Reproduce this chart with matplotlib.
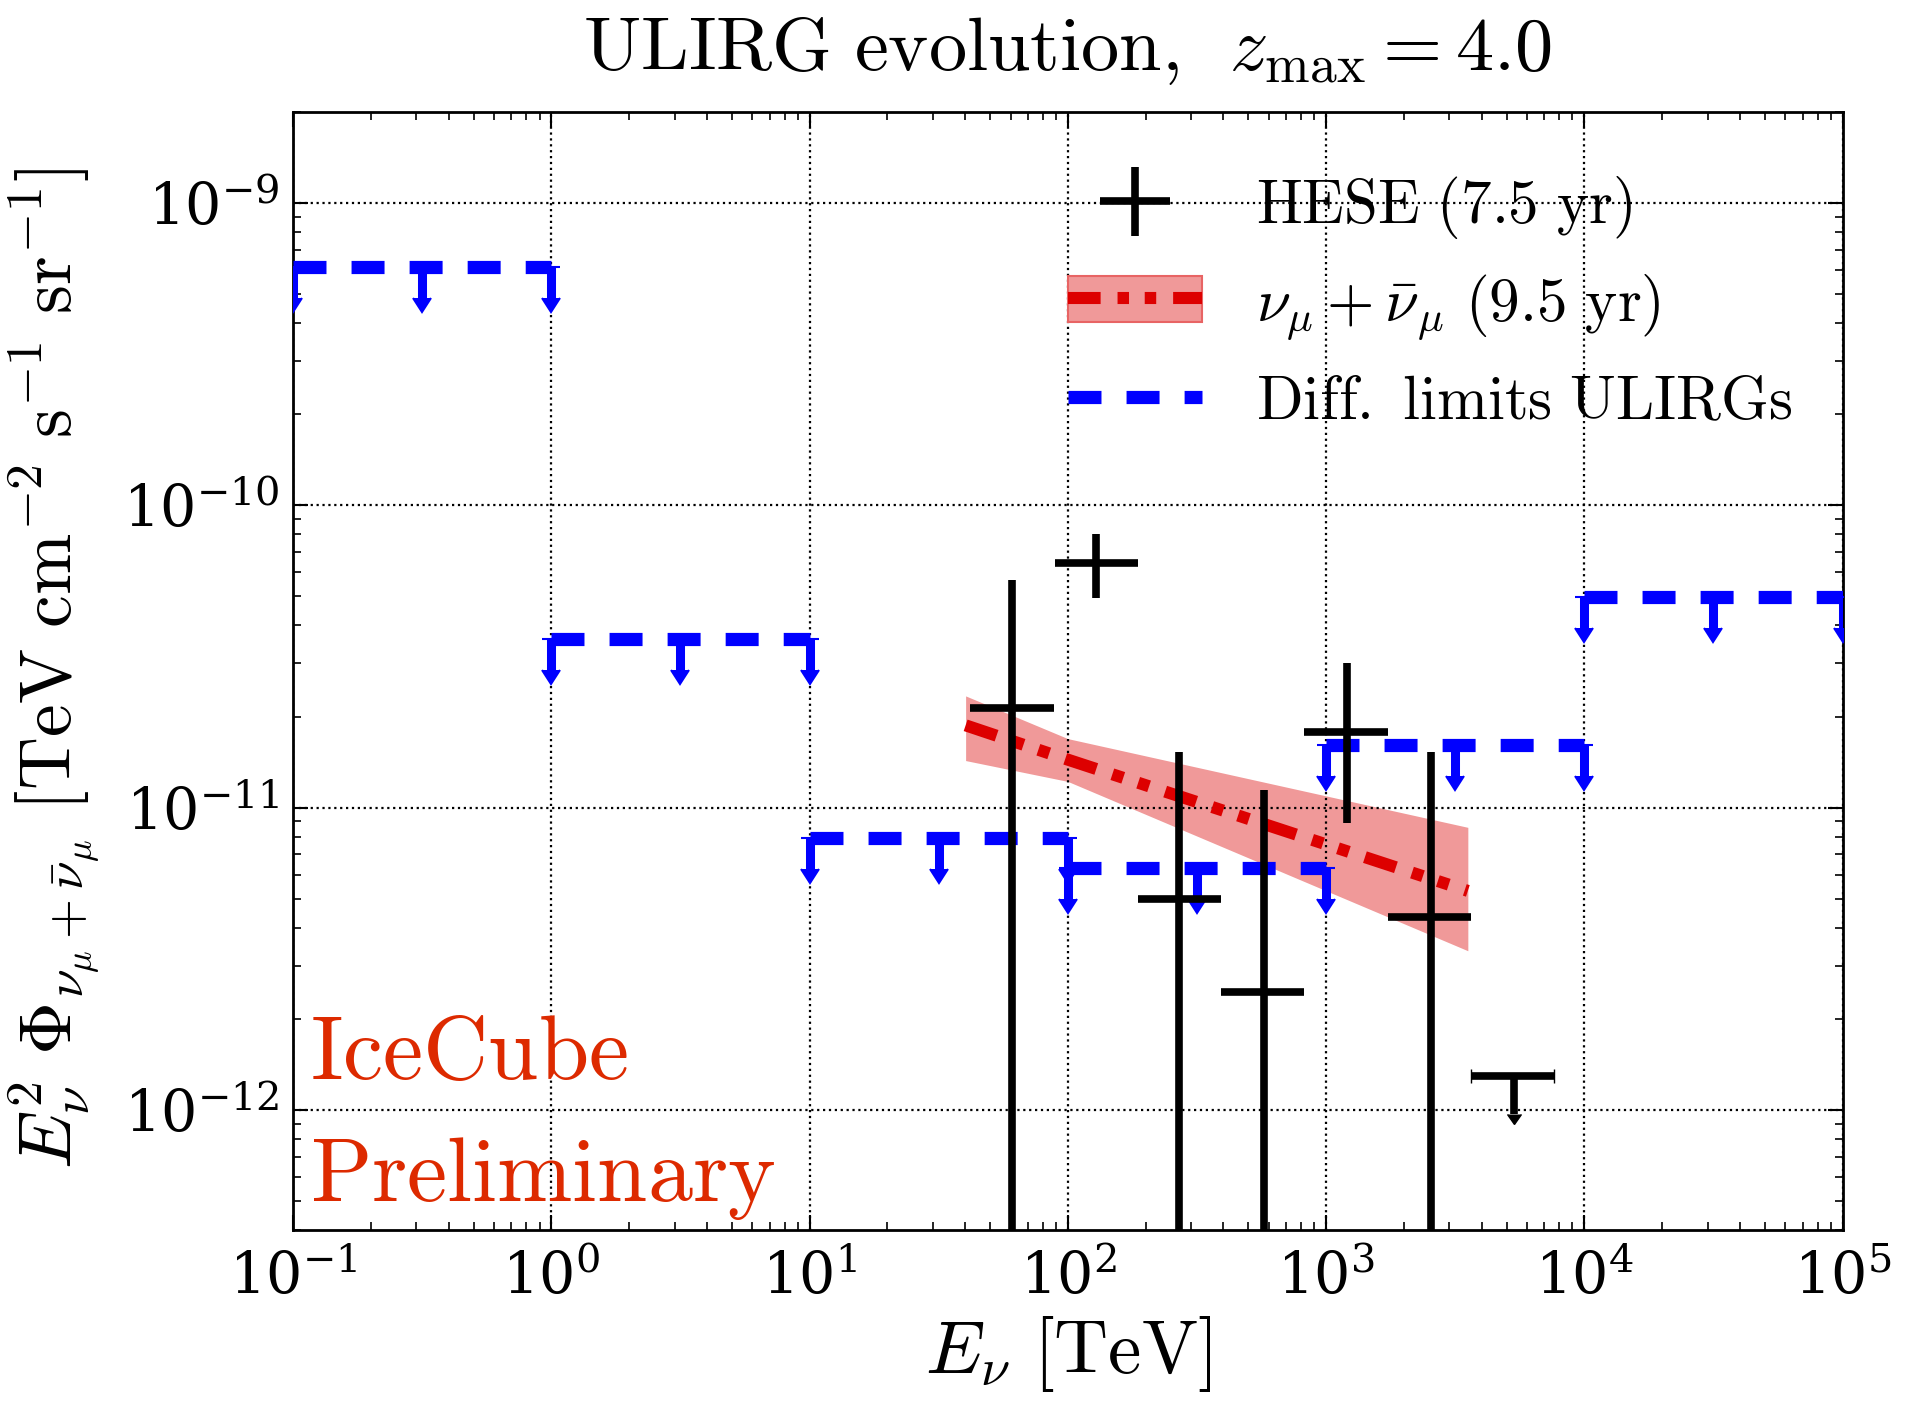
import numpy as np
import matplotlib
matplotlib.use("Agg")
import matplotlib.pyplot as plt
from matplotlib.patches import Patch
from matplotlib.lines import Line2D
from matplotlib.legend_handler import HandlerErrorbar, HandlerTuple

plt.rcParams['mathtext.fontset'] = 'cm'
plt.rcParams['font.family'] = ['DejaVu Serif']

# ---------------- data ----------------
# HESE (7.5 yr) segmented flux
hese_E = [61, 129, 270, 573, 1208, 2540]
hese_E_lo = [41.8, 89, 187, 392, 824, 1733]
hese_E_hi = [88.3, 187, 392, 824, 1733, 3640]
hese_flux = [2.14e-11, 6.43e-11, 4.99e-12, 2.45e-12, 1.78e-11, 4.34e-12]
hese_flux_up = [5.65e-11, 8.0e-11, 1.53e-11, 1.14e-11, 3.0e-11, 1.53e-11]
hese_flux_down = [0.0, 4.94e-11, 0.0, 0.0, 8.9e-12, 0.0]
# HESE upper limit bin
hese_ul_E = [5320]
hese_ul_E_lo = [3640]
hese_ul_E_hi = [7650]
hese_ul_flux = [1.29e-12]

# nu_mu + nubar_mu (9.5 yr) fit and band
band_E = [40.2, 100, 3540]
band_upper = [2.34e-11, 1.69e-11, 8.6e-12]
band_lower = [1.43e-11, 1.22e-11, 3.36e-12]
fit_E = [40.2, 100, 3540]
fit_flux = [1.87e-11, 1.44e-11, 5.3e-12]

# Differential limits ULIRGs (per decade)
lim_E_lo = [0.1, 1, 10, 100, 1000, 10000]
lim_E_hi = [1, 10, 100, 1000, 10000, 100000]
lim_flux = [6.13e-10, 3.6e-11, 7.9e-12, 6.3e-12, 1.61e-11, 4.98e-11]

# ---------------- plot ----------------
fig = plt.figure(figsize=(19.07, 14.26), dpi=100)
ax = fig.add_axes([0.1537, 0.1373, 0.8125, 0.7843])
ax.set_xscale('log')
ax.set_yscale('log')

blue = '#0000ff'
lim_ls = (0, (2.5, 1.9))
for lo, hi, f in zip(lim_E_lo, lim_E_hi, lim_flux):
    xs = [lo, np.sqrt(lo * hi), hi]
    ys = [f, f, f]
    ax.errorbar(xs, ys, yerr=[0.21 * f] * 3, uplims=True, color=blue, ecolor=blue,
                linestyle=lim_ls, lw=9.5, elinewidth=6.5, capsize=6.5,
                capthick=1.5, zorder=3)

# band + fit
ax.fill_between(band_E, band_lower, band_upper, color='#f09999', lw=0, zorder=1)
fit_ls = (0, (2.7, 1.4, 0.95, 1.3, 0.95, 1.4))
fit_line, = ax.plot(fit_E, fit_flux, color='#dd0000', lw=8.7, linestyle=fit_ls, zorder=4)

# HESE points
hf = np.array(hese_flux)
hup = np.array(hese_flux_up)
hdn = np.maximum(np.array(hese_flux_down), 1e-16)
hE = np.array(hese_E)
xerr = [hE - np.array(hese_E_lo), np.array(hese_E_hi) - hE]
yerr = [hf - hdn, hup - hf]
hese = ax.errorbar(hE, hf, xerr=xerr, yerr=yerr, fmt='none', ecolor='k', color='k',
                   elinewidth=5.5, capsize=0, zorder=5)
uE = np.array(hese_ul_E)
uf = np.array(hese_ul_flux)
ax.errorbar(uE, uf, xerr=[uE - np.array(hese_ul_E_lo), np.array(hese_ul_E_hi) - uE],
            yerr=0.25 * uf, uplims=True, fmt='none', ecolor='k', color='k',
            elinewidth=5.5, capsize=5, capthick=1, zorder=5)

ax.set_xlim(1e-1, 1e5)
ax.set_ylim(4e-13, 2e-9)

ax.grid(True, which='major', linestyle=':', color='k', linewidth=1.6)
ax.set_axisbelow(False)
for s in ax.spines.values():
    s.set_linewidth(2.0)
ax.tick_params(which='both', direction='in', top=True, right=True, labelsize=41)
ax.tick_params(which='major', length=11, width=1.5)
ax.tick_params(which='minor', length=5.5, width=1.2)
ax.tick_params(axis='x', which='major', pad=14)
ax.tick_params(axis='y', which='major', pad=10)

ax.set_xlabel(r'$E_\nu\ [\mathrm{TeV}]$', fontsize=54, labelpad=6)
ax.set_ylabel(r'$E_\nu^2\ \Phi_{\nu_\mu+\bar{\nu}_\mu}\ [\mathrm{TeV\ cm^{-2}\ s^{-1}\ sr^{-1}}]$',
              fontsize=53)
ax.yaxis.set_label_coords(-0.124, 0.502)
ax.set_title(r'$\mathrm{ULIRG\ evolution,}\ \,z_{\mathrm{max}} = 4.0$', fontsize=55, pad=30)

ax.text(0.011, 0.135, r'$\mathrm{IceCube}$', transform=ax.transAxes, color='#dd2a00',
        fontsize=65, va='baseline', ha='left')
ax.text(0.011, 0.026, r'$\mathrm{Preliminary}$', transform=ax.transAxes, color='#dd2a00',
        fontsize=65, va='baseline', ha='left')

band_patch = Patch(facecolor='#f09999', edgecolor='#e86464', lw=1.5)
lim_handle = Line2D([], [], color=blue, lw=9.5, linestyle=lim_ls)
leg = ax.legend([hese, (band_patch, fit_line), lim_handle],
                [r'$\mathrm{HESE\ (7.5\ yr)}$',
                 r'$\nu_\mu + \bar{\nu}_\mu\ \mathrm{(9.5\ yr)}$',
                 r'$\mathrm{Diff.\ limits\ ULIRGs}$'],
                handler_map={type(hese): HandlerErrorbar(xerr_size=0.57),
                             tuple: HandlerTuple(ndivide=1, pad=0)},
                loc='upper left', bbox_to_anchor=(0.5, 0.944), frameon=False,
                fontsize=44, borderpad=0, borderaxespad=0, handlelength=2.2,
                handleheight=0.77, handletextpad=0.88, labelspacing=0.5)

fig.savefig('out.png', dpi=100)
